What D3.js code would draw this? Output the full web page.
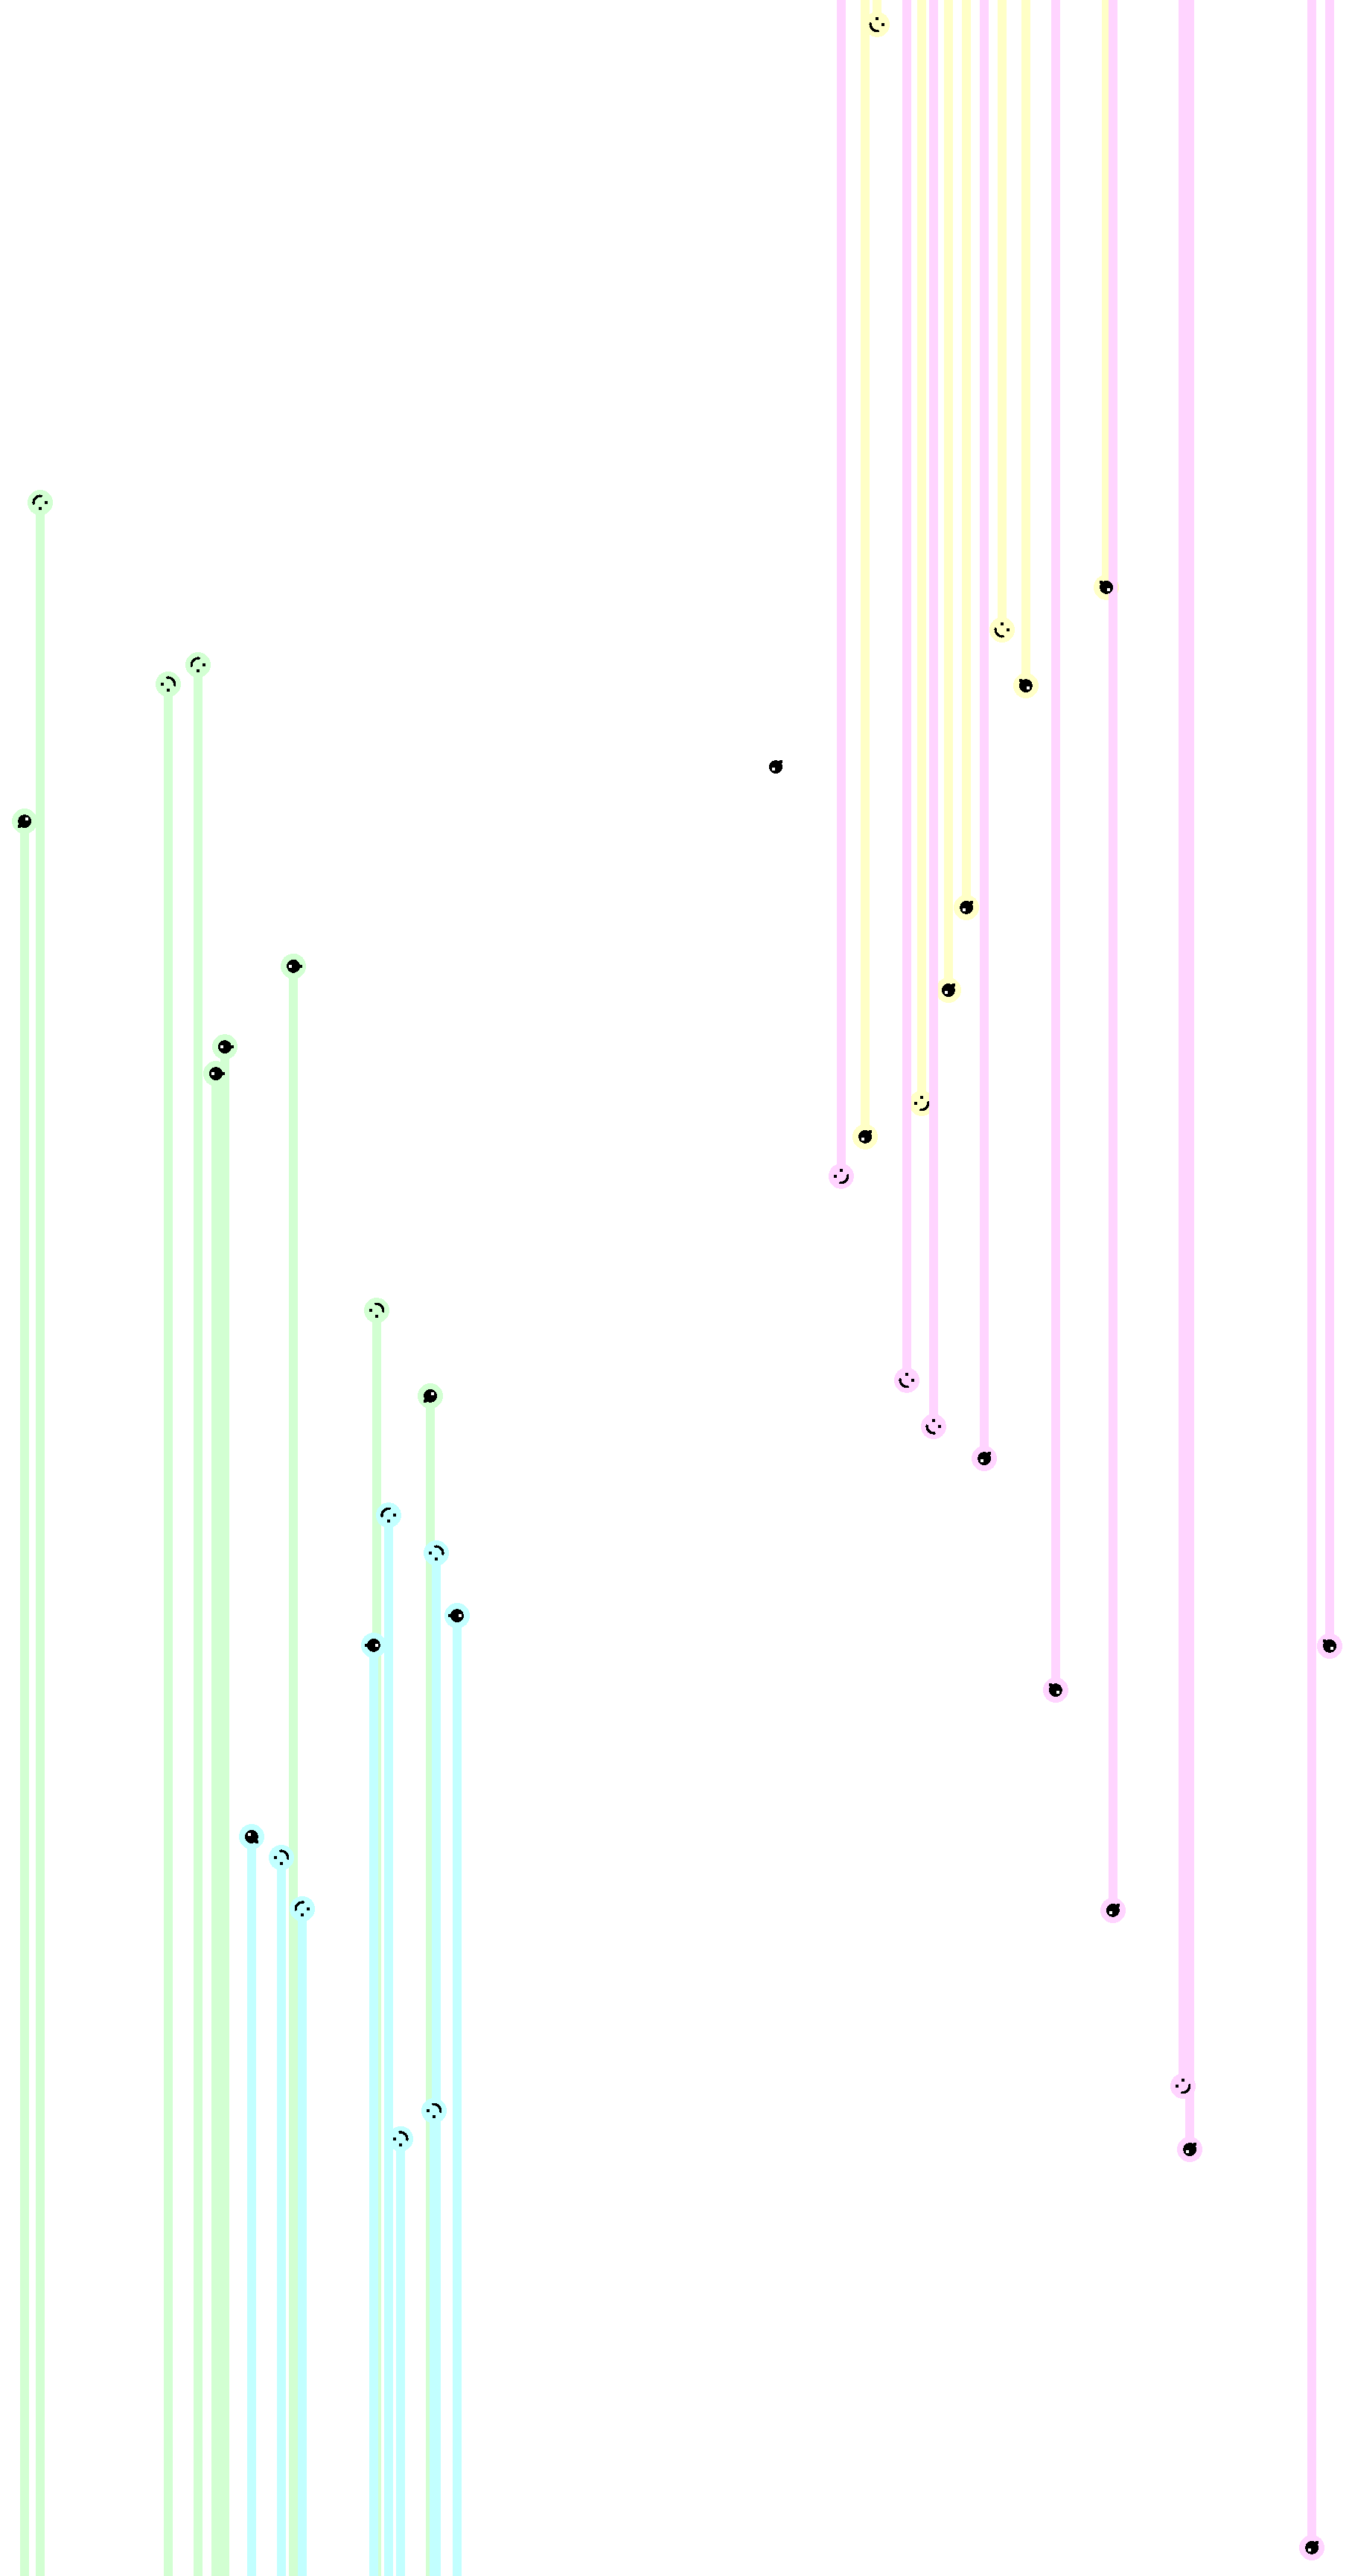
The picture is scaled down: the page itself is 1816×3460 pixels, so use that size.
<!DOCTYPE html>
<html>
<head>
<meta charset="utf-8">
<script src="https://cdn.jsdelivr.net/npm/d3@7"></script>
<style>
html, body { margin: 0; padding: 0; background: #ffffff; }
svg { display: block; }
</style>
</head>
<body>
<svg id="chart"></svg>
<script>
// Each point: [x (0-100), y (0-100, from top), filled face (1) or outline face (0), face angle in degrees]
const greenPoints = [
  [2.97, 19.51, 0, 135],
  [1.82, 31.88, 1, 45],
  [12.44, 26.56, 0, 225],
  [14.65, 25.81, 0, 135],
  [16.63, 40.64, 1, 270],
  [15.97, 41.68, 1, 270],
  [21.70, 37.51, 1, 270],
  [27.86, 50.87, 0, 225],
  [31.83, 54.19, 1, 45]
];
const cyanPoints = [
  [28.74, 58.82, 0, 135],
  [32.27, 60.29, 0, 225],
  [33.81, 62.72, 1, 90],
  [27.64, 63.87, 1, 90],
  [18.61, 71.30, 1, 315],
  [20.81, 72.11, 0, 225],
  [22.36, 74.10, 0, 135],
  [32.10, 81.94, 0, 225],
  [29.63, 83.03, 0, 225]
];
const yellowPoints = [
  [64.87, 0.95, 0, 45],
  [63.99, 44.13, 1, 225],
  [68.17, 42.83, 0, 315],
  [70.15, 38.44, 1, 225],
  [71.48, 35.23, 1, 225],
  [74.12, 24.45, 0, 45],
  [75.88, 26.62, 1, 135],
  [81.83, 22.80, 1, 135]
];
const pinkPoints = [
  [62.22, 45.66, 0, 315],
  [67.07, 53.58, 0, 45],
  [69.05, 55.38, 0, 45],
  [72.80, 56.62, 1, 225],
  [78.08, 65.61, 1, 135],
  [82.32, 74.16, 1, 225],
  [87.50, 80.98, 0, 315],
  [88.00, 83.44, 1, 225],
  [97.03, 98.90, 1, 225],
  [98.35, 63.90, 1, 135]
];
const loosePoints = [
  [57.38, 29.77, 1, 225]
];

const seriesNames = ["green", "cyan", "yellow", "pink"];
const seriesData = [greenPoints, cyanPoints, yellowPoints, pinkPoints];
const seriesColors = ["#d2ffd2", "#c2ffff", "#ffffc6", "#ffd4ff"];
const seriesAnchors = ["bottom", "bottom", "top", "top"];

const W = 1816, H = 3460;
const svg = d3.select("#chart").attr("width", W).attr("height", H)
  .attr("shape-rendering", "crispEdges");
svg.append("rect").attr("width", W).attr("height", H).attr("fill", "#ffffff");

const x = d3.scaleLinear().domain([0, 100]).range([0, W]);
const y = d3.scaleLinear().domain([0, 100]).range([0, H]);
const color = d3.scaleOrdinal().domain(seriesNames).range(seriesColors);
const anchor = d3.scaleOrdinal().domain(seriesNames).range(seriesAnchors);

const rad = a => a * Math.PI / 180;
const polar = (r, a) => [r * Math.sin(rad(a)), -r * Math.cos(rad(a))];

function drawFace(g, d) {
  const cx = x(d[0]), cy = y(d[1]);
  const f = g.append("g").attr("transform", `translate(${cx},${cy})`);
  if (d[2] === 1) {
    f.append("circle").attr("r", 9).attr("fill", "#000");
    const [ex, ey] = polar(4, d[3]);
    f.append("rect").attr("x", ex - 2).attr("y", ey - 2)
      .attr("width", 4).attr("height", 4).attr("fill", "#fff");
    const [tx, ty] = polar(10, d[3] + 180);
    f.append("rect").attr("x", tx - 2).attr("y", ty - 2)
      .attr("width", 4).attr("height", 4).attr("fill", "#000");
  } else {
    [-45, 45].forEach(o => {
      const [ex, ey] = polar(8, d[3] + o);
      f.append("rect").attr("x", ex - 2).attr("y", ey - 2)
        .attr("width", 4).attr("height", 4).attr("fill", "#000");
    });
    const mouth = d3.arc().innerRadius(7).outerRadius(10.5)
      .startAngle(rad(d[3] + 180 - 62)).endAngle(rad(d[3] + 180 + 62));
    f.append("path").attr("d", mouth()).attr("fill", "#000");
  }
}

seriesNames.forEach((name, i) => {
  const data = seriesData[i];
  const g = svg.append("g").attr("class", "series-" + name);
  const c = color(name);
  const base = anchor(name) === "top" ? y(0) : y(100);
  g.selectAll("line").data(data).join("line")
    .attr("x1", d => x(d[0])).attr("x2", d => x(d[0]))
    .attr("y1", base).attr("y2", d => y(d[1]))
    .attr("stroke", c).attr("stroke-width", 12);
  g.selectAll("circle.glow").data(data).join("circle")
    .attr("class", "glow")
    .attr("cx", d => x(d[0])).attr("cy", d => y(d[1]))
    .attr("r", 17).attr("fill", c);
});

const faces = svg.append("g").attr("class", "faces");
seriesData.forEach(data => data.forEach(d => drawFace(faces, d)));
loosePoints.forEach(d => drawFace(faces, d));
</script>
</body>
</html>
